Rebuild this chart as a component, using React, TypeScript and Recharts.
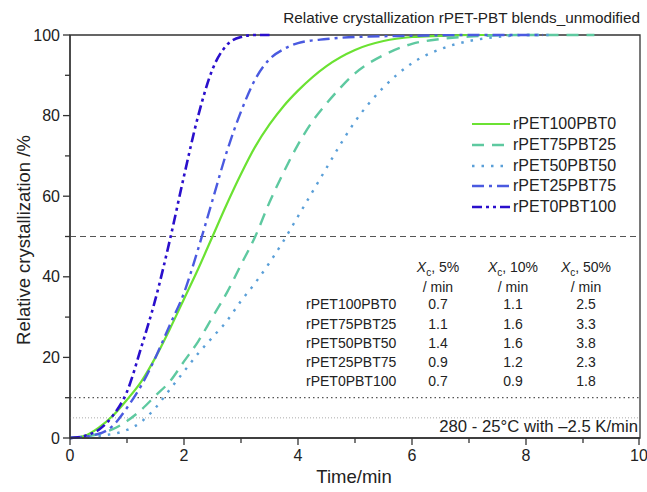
import React from 'react';
import {
  LineChart,
  Line,
  XAxis,
  YAxis,
  ReferenceLine,
  ReferenceArea,
} from 'recharts';

const FONT = '"Liberation Sans", Arial, Helvetica, sans-serif';

// time (min) and relative crystallization (%)
const t100 = [0, 0.25, 0.5, 0.75, 1, 1.25, 1.5, 1.75, 2, 2.25, 2.5, 2.75, 3, 3.25, 3.5, 3.75, 4, 4.5, 5, 5.5, 6, 6.5, 7, 7.5];
const y100 = [0, 0.5, 2.5, 5.5, 9.5, 14, 20, 27, 34.5, 42, 50, 58, 65.5, 72.3, 77.8, 82.4, 86.2, 92.3, 96.3, 98.5, 99.5, 99.8, 100, 100];

const t75 = [0, 0.5, 0.75, 1, 1.25, 1.5, 1.75, 2, 2.25, 2.5, 2.75, 3, 3.25, 3.5, 3.75, 4, 4.25, 4.5, 4.75, 5, 5.5, 6, 6.5, 7, 8, 9.2];
const y75 = [0, 1, 2.2, 4.2, 7, 10.5, 14, 19, 24, 30, 36, 43, 50, 58.5, 66, 72.8, 78.5, 83, 87, 90.5, 95, 97.8, 99, 99.6, 100, 100];

const t50 = [0, 0.5, 1, 1.25, 1.5, 1.75, 2, 2.25, 2.5, 2.75, 3, 3.25, 3.5, 3.75, 4, 4.25, 4.5, 4.75, 5, 5.5, 6, 6.5, 7, 7.5, 8, 8.5];
const y50 = [0, 0.5, 2, 4, 7.5, 12, 16.5, 21, 25, 29, 34, 38.5, 43.5, 49, 55, 61, 67, 73, 78.5, 87, 93, 96.5, 98.5, 99.5, 100, 100];

const t25 = [0, 0.5, 0.75, 1, 1.25, 1.5, 1.75, 2, 2.25, 2.5, 2.75, 3, 3.25, 3.5, 3.75, 4, 4.5, 5, 6, 7, 8.3];
const y25 = [0, 1, 3, 7.5, 13, 20, 28, 36, 47, 59, 71, 81, 89, 94, 96.5, 98, 99, 99.5, 99.8, 100, 100];

const t0 = [0, 0.25, 0.5, 0.75, 1, 1.25, 1.5, 1.75, 2, 2.25, 2.5, 2.75, 3, 3.25, 3.5];
const y0 = [0, 0.5, 2, 5.5, 11.5, 22.5, 34.5, 49, 65, 80, 91.5, 97.5, 99.5, 100, 100];

const seriesNames = ['rPET100PBT0', 'rPET75PBT25', 'rPET50PBT50', 'rPET25PBT75', 'rPET0PBT100'];
const colors = ['#6be232', '#5ec9a0', '#5a9fd8', '#4a5ae0', '#2a0fcc'];
const dashes = ['', '12 8', '2.5 7', '12 5 3 5', '10 4 3 4 3 4'];
const widths = [2.2, 2.4, 2.4, 2.4, 2.6];

const tableCols = ['5%', '10%', '50%'];
const x5 = [0.7, 1.1, 1.4, 0.9, 0.7];
const x10 = [1.1, 1.6, 1.6, 1.2, 0.9];
const x50 = [2.5, 3.3, 3.8, 2.3, 1.8];

const xTicks = [0, 1, 2, 3, 4, 5, 6, 7, 8, 9, 10];
const yTicks = [0, 10, 20, 30, 40, 50, 60, 70, 80, 90, 100];

const allT = [t100, t75, t50, t25, t0];
const allY = [y100, y75, y50, y25, y0];
const seriesData = allT.map((ts, i) => ts.map((t, k) => ({ t, v: allY[i][k] })));

const XTick = (props: any) => {
  const { x, y, payload } = props;
  const major = payload.value % 2 === 0;
  return (
    <g>
      <line x1={x} x2={x} y1={y} y2={y + (major ? 7 : 5)} stroke="#333" strokeWidth={1.3} />
      {major && (
        <text x={x} y={y + 23} textAnchor="middle" fontSize={16} fill="#222" fontFamily={FONT}>
          {payload.value}
        </text>
      )}
    </g>
  );
};

const YTick = (props: any) => {
  const { x, y, payload } = props;
  const major = payload.value % 20 === 0;
  return (
    <g>
      <line x1={x} x2={x - (major ? 7 : 5)} y1={y} y2={y} stroke="#333" strokeWidth={1.3} />
      {major && (
        <text x={x - 10} y={y + 5.5} textAnchor="end" fontSize={16} fill="#222" fontFamily={FONT}>
          {payload.value}
        </text>
      )}
    </g>
  );
};

const XcHead = ({ p }: { p: string }) => (
  <span>
    <i>X</i>
    <sub style={{ fontSize: 10 }}>c</sub>, {p}
  </span>
);

export default function App() {
  const colX = [438, 513, 586];
  const rowY = [305, 325, 344, 363, 382];
  const vals = [x5, x10, x50];
  return (
    <div style={{ position: 'absolute', left: 0, top: 0, width: 647, height: 492, background: '#fff', fontFamily: FONT }}>
      <LineChart width={647} height={492} margin={{ top: 35, right: 7, bottom: 0, left: 0 }}>
        <XAxis
          dataKey="t"
          type="number"
          domain={[0, 10]}
          ticks={xTicks}
          tick={<XTick />}
          tickSize={0}
          tickMargin={0}
          tickLine={false}
          axisLine={{ stroke: '#333', strokeWidth: 1.3 }}
          height={54}
          allowDataOverflow
        />
        <YAxis
          type="number"
          domain={[0, 100]}
          ticks={yTicks}
          tick={<YTick />}
          tickSize={0}
          tickMargin={0}
          tickLine={false}
          axisLine={{ stroke: '#333', strokeWidth: 1.3 }}
          width={70}
        />
        <ReferenceArea x1={0} x2={10} y1={0} y2={100} fill="none" stroke="#333" strokeWidth={1.3} />
        <ReferenceLine y={50} stroke="#555" strokeDasharray="6 4" strokeWidth={1.2} />
        <ReferenceLine y={10} stroke="#555" strokeDasharray="1.5 3" strokeWidth={1.2} />
        <ReferenceLine y={5} stroke="#aaa" strokeDasharray="1 2" strokeWidth={1} />
        {seriesData.map((d, i) => (
          <Line
            key={seriesNames[i]}
            data={d}
            dataKey="v"
            name={seriesNames[i]}
            type="monotone"
            stroke={colors[i]}
            strokeWidth={widths[i]}
            strokeDasharray={dashes[i] || undefined}
            dot={false}
            isAnimationActive={false}
          />
        ))}
      </LineChart>

      {/* legend */}
      <div style={{ position: 'absolute', left: 468, top: 114, fontSize: 16, color: '#222' }}>
        {seriesNames.map((name, i) => (
          <div key={name} style={{ display: 'flex', alignItems: 'center', height: 20.7 }}>
            <svg width={44} height={10}>
              <line
                x1={4}
                x2={42}
                y1={5}
                y2={5}
                stroke={colors[i]}
                strokeWidth={widths[i]}
                strokeDasharray={dashes[i] || undefined}
              />
            </svg>
            <span style={{ marginLeft: 1 }}>{name}</span>
          </div>
        ))}
      </div>

      <div style={{ position: 'absolute', right: 7, top: 9, fontSize: 15.3, color: '#222', whiteSpace: 'nowrap' }}>
        Relative crystallization rPET-PBT blends_unmodified
      </div>
      <div style={{ position: 'absolute', left: 354, top: 466, transform: 'translateX(-50%)', fontSize: 18.5, color: '#222' }}>
        Time/min
      </div>
      <div
        style={{
          position: 'absolute',
          left: 24,
          top: 240,
          transform: 'translate(-50%, -50%) rotate(-90deg)',
          fontSize: 18.5,
          color: '#222',
          whiteSpace: 'nowrap',
        }}
      >
        Relative crystallization /%
      </div>
      <div style={{ position: 'absolute', right: 9, top: 417, fontSize: 16.7, color: '#222', whiteSpace: 'nowrap' }}>
        280 - 25°C with –2.5 K/min
      </div>

      {tableCols.map((c, j) => (
        <div
          key={c}
          style={{
            position: 'absolute',
            left: colX[j],
            top: 260,
            transform: 'translateX(-50%)',
            fontSize: 14,
            lineHeight: '15px',
            color: '#222',
            textAlign: 'center',
            whiteSpace: 'nowrap',
          }}
        >
          <XcHead p={c} />
          <br />/ min
        </div>
      ))}
      {seriesNames.map((name, i) => (
        <React.Fragment key={name}>
          <div style={{ position: 'absolute', left: 306, top: rowY[i] - 9, fontSize: 14, color: '#222' }}>{name}</div>
          {vals.map((col, j) => (
            <div
              key={j}
              style={{
                position: 'absolute',
                left: colX[j],
                top: rowY[i] - 9,
                transform: 'translateX(-50%)',
                fontSize: 14,
                color: '#222',
              }}
            >
              {col[i].toFixed(1)}
            </div>
          ))}
        </React.Fragment>
      ))}
    </div>
  );
}
